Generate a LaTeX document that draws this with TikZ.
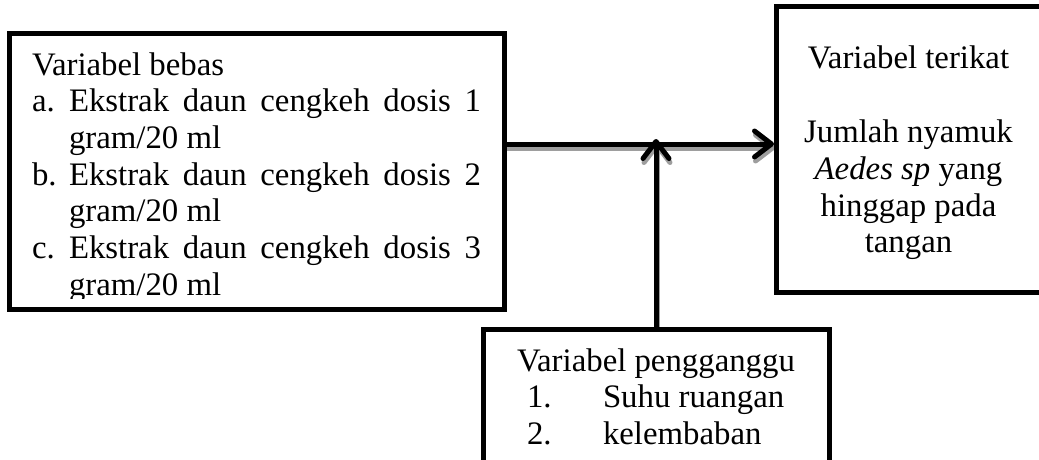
\documentclass[tikz,border=0pt]{standalone}
\usepackage{fontspec}
\setmainfont{Liberation Serif}
\usetikzlibrary{arrows.meta}
\pgfdeclarelayer{under}
\pgfsetlayers{under,main}
\begin{document}
\begin{tikzpicture}[x=1pt,y=-1pt,
  frame/.style={draw=black,line width=5pt,inner sep=0pt,outer sep=0pt,fill=white},
  txt/.style={inner sep=0pt,outer sep=0pt,anchor=base west,font=\fontsize{32.8}{36.7}\selectfont},
  ctxt/.style={txt,anchor=base},
  link/.style={line width=5pt,-{Straight Barb[length=17pt,width=26pt,round]}},
  shade/.style={link,draw=black!38,transform canvas={shift={(1pt,-4pt)}}}]
\useasboundingbox (0,0) rectangle (1039,460);
\clip (0,0) rectangle (1039,460);

% boxes
\node[frame,minimum width=495pt,minimum height=275pt] (lb) at (257,171.5) {};
\node[frame,minimum width=265pt,minimum height=285pt] (rb) at (908.5,149.5) {};
\node[frame,minimum width=346pt,minimum height=150.5pt] (bb) at (656,404.75) {};

% junction of the two arrows
\coordinate (j) at (656,144);
\coordinate (vt) at (656,139);

% shadows of the arrows, behind the boxes
\begin{pgfonlayer}{under}
\draw[shade] (lb.east |- j) -- ([xshift=-2pt]rb.west |- j);
\draw[shade] (bb.north) -- (vt);
\end{pgfonlayer}
% arrows
\draw[link] (lb.east |- j) -- ([xshift=-2pt]rb.west |- j);
\draw[link] (bb.north) -- (vt);

% independent variable
\begin{scope}
\clip (12,37) rectangle (502,298);
\node[txt] (l0) at (32,75) {Variabel bebas};
\node[txt] (la) at (32,111.7) {a.};
\node[txt] (la1) at (69,111.7) {\makebox[412pt][s]{Ekstrak daun cengkeh dosis 1}};
\node[txt] (la2) at (69,148.4) {gram/20 ml};
\node[txt] (lbb) at (32,185.1) {b.};
\node[txt] (lb1) at (69,185.1) {\makebox[412pt][s]{Ekstrak daun cengkeh dosis 2}};
\node[txt] (lb2) at (69,221.8) {gram/20 ml};
\node[txt] (lc) at (32,258.5) {c.};
\node[txt] (lc1) at (69,258.5) {\makebox[412pt][s]{Ekstrak daun cengkeh dosis 3}};
\node[txt] (lc2) at (69,295.2) {gram/20 ml};
\end{scope}

% dependent variable
\node[ctxt] (r0) at (908.5,68.3) {Variabel terikat};
\node[ctxt] (r1) at (908.5,142.7) {Jumlah nyamuk};
\node[ctxt] (r2) at (908.5,179.4) {\textit{Aedes sp} yang};
\node[ctxt] (r3) at (908.5,216.1) {hinggap pada};
\node[ctxt] (r4) at (908.5,252.8) {tangan};

% confounding variable
\node[ctxt] (b0) at (656,371) {Variabel pengganggu};
\node[txt] (b1n) at (527,407.5) {1.};
\node[txt] (b1) at (603,407.5) {Suhu ruangan};
\node[txt] (b2n) at (527,444) {2.};
\node[txt] (b2) at (603,444) {kelembaban};
\end{tikzpicture}
\end{document}
